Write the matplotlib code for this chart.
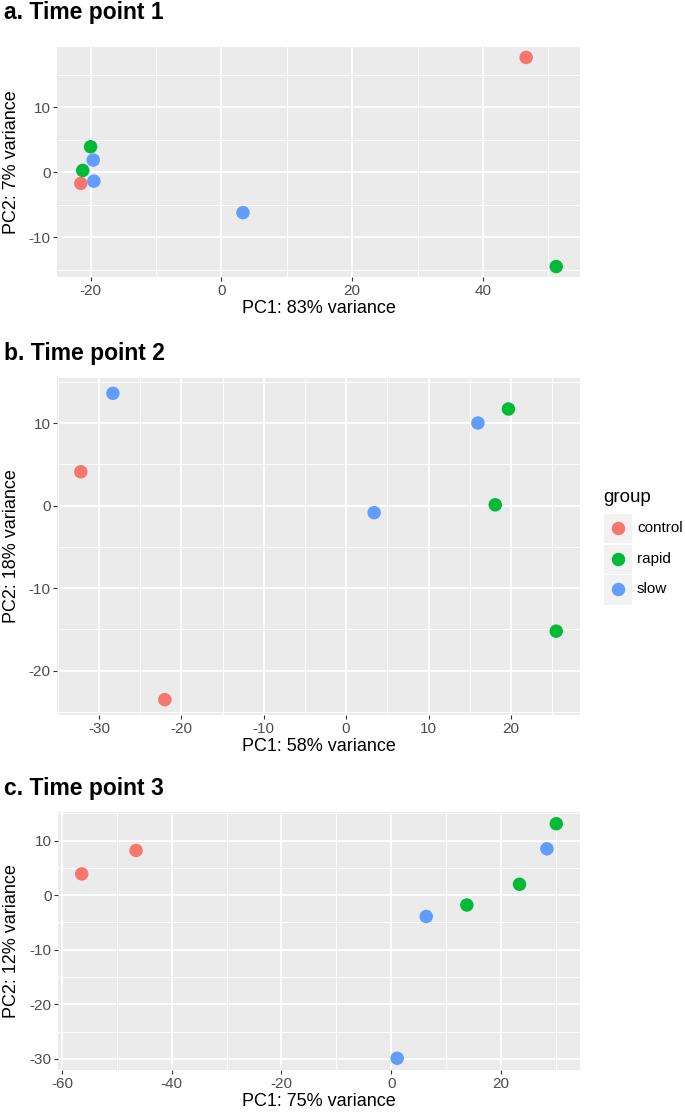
import matplotlib
matplotlib.use("Agg")
import matplotlib.pyplot as plt
from matplotlib.lines import Line2D
from matplotlib.patches import Rectangle
from matplotlib.ticker import MultipleLocator

plt.rcParams["font.family"] = ["Liberation Sans", "DejaVu Sans"]
plt.rcParams["axes.unicode_minus"] = False  # ggplot prints a plain hyphen

# ---------- data ----------
groups = ["control", "rapid", "slow"]
group_colors = ["#F8766D", "#00BA38", "#619CFF"]

tp1_group = ["control", "control", "rapid", "rapid", "rapid", "slow", "slow", "slow"]
tp1_pc1 = [46.6, -21.5, 51.2, -20.0, -21.2, -19.6, -19.5, 3.3]
tp1_pc2 = [17.7, -1.7, -14.5, 3.95, 0.3, 1.9, -1.35, -6.2]

tp2_group = ["control", "control", "rapid", "rapid", "rapid", "slow", "slow", "slow"]
tp2_pc1 = [-32.2, -22.0, 19.7, 18.1, 25.5, -28.3, 16.0, 3.4]
tp2_pc2 = [4.1, -23.5, 11.7, 0.1, -15.2, 13.6, 10.0, -0.85]

tp3_group = ["control", "control", "rapid", "rapid", "rapid", "slow", "slow", "slow"]
tp3_pc1 = [-56.4, -46.5, 30.1, 23.4, 13.8, 28.4, 6.4, 1.1]
tp3_pc2 = [3.9, 8.2, 13.1, 2.0, -1.8, 8.5, -3.9, -29.9]

panel_titles = ["a. Time point 1", "b. Time point 2", "c. Time point 3"]
x_labels = ["PC1: 83% variance", "PC1: 58% variance", "PC1: 75% variance"]
y_labels = ["PC2: 7% variance", "PC2: 18% variance", "PC2: 12% variance"]
x_steps = [20, 10, 20]
y_steps = [10, 10, 10]

# ---------- layout (pixels, top-left origin) ----------
W, H = 685, 1117


def fx(px):
    return px / W


def fy(py):
    return 1 - py / H


# left, right, top, bottom, title baseline
boxes = [
    (57, 580, 47, 277, 19),
    (57, 580, 378, 715, 360),
    (58, 580, 812, 1070, 795),
]

fig = plt.figure(figsize=(W / 100, H / 100), dpi=100)
fig.patch.set_facecolor("white")

panels = [
    (tp1_group, tp1_pc1, tp1_pc2),
    (tp2_group, tp2_pc1, tp2_pc2),
    (tp3_group, tp3_pc1, tp3_pc2),
]


def expand(vals, frac=0.05):
    lo, hi = min(vals), max(vals)
    pad = (hi - lo) * frac
    return lo - pad, hi + pad


for i, (grp, xs, ys) in enumerate(panels):
    l, r, t, b, tb = boxes[i]
    ax = fig.add_axes([fx(l), fy(b), (r - l) / W, (b - t) / H])
    ax.set_facecolor("#EBEBEB")
    for s in ax.spines.values():
        s.set_visible(False)
    ax.set_axisbelow(True)

    for g, c in zip(groups, group_colors):
        gx = [x for x, gg in zip(xs, grp) if gg == g]
        gy = [y for y, gg in zip(ys, grp) if gg == g]
        ax.scatter(gx, gy, s=94, color=c, edgecolors="none", zorder=3)

    ax.set_xlim(*expand(xs))
    ax.set_ylim(*expand(ys))
    ax.xaxis.set_major_locator(MultipleLocator(x_steps[i]))
    ax.xaxis.set_minor_locator(MultipleLocator(x_steps[i] / 2))
    ax.yaxis.set_major_locator(MultipleLocator(y_steps[i]))
    ax.yaxis.set_minor_locator(MultipleLocator(y_steps[i] / 2))
    ax.grid(which="major", color="white", lw=1.3)
    ax.grid(which="minor", color="white", lw=0.65)

    ax.tick_params(which="major", length=2.75, width=0.8, color="#333333",
                   labelcolor="#4D4D4D", labelsize=11, pad=2)
    ax.tick_params(which="minor", length=0)

    ax.set_xlabel(x_labels[i], fontsize=13, color="black", labelpad=2)
    fig.text(fx(12), fy((t + b) / 2), y_labels[i], rotation=90, fontsize=13,
             ha="center", va="center")
    fig.text(fx(4), fy(tb), panel_titles[i], fontsize=16.5, fontweight="bold",
             ha="left", va="baseline")

# ---------- legend ----------
fig.text(fx(603), fy(498), "group", fontsize=13.5, ha="left", va="center")
key_h = 30.5
for k, (g, c) in enumerate(zip(groups, group_colors)):
    top = 513 + key_h * k
    cy = top + key_h / 2
    fig.add_artist(Rectangle((fx(603), fy(top + key_h)), 29 / W, key_h / H,
                             facecolor="#F2F2F2", edgecolor="white", lw=0.8,
                             transform=fig.transFigure))
    fig.add_artist(Line2D([fx(617.5)], [fy(cy)], marker="o", ms=9.7,
                          color=c, mec="none", linestyle="none",
                          transform=fig.transFigure))
    fig.text(fx(637), fy(cy), g, fontsize=11, ha="left", va="center")

fig.savefig("out.png", dpi=100)
